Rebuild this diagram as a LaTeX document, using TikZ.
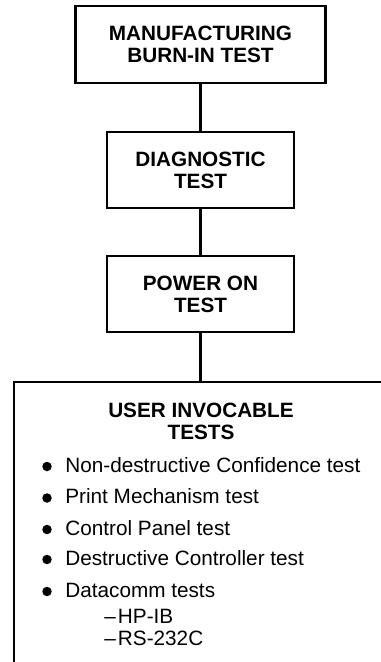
\documentclass[tikz,border=0pt]{standalone}
\usepackage{fontspec}
\setmainfont{Liberation Sans}
\pgfdeclarelayer{edgelayer}
\pgfdeclarelayer{nodelayer}
\pgfsetlayers{edgelayer,nodelayer,main}
\tikzstyle{stage}=[rectangle,fill=white,draw=black,line width=1.3pt,minimum width=3.74cm,minimum height=1.53cm,align=center,font=\fontsize{11.8}{12.6}\selectfont\bfseries]
\tikzstyle{heading}=[align=center,inner sep=0pt,font=\fontsize{11.8}{12.6}\selectfont\bfseries]
\tikzstyle{item}=[anchor=base west,inner sep=0pt,font=\fontsize{11.8}{14}\selectfont]
\tikzstyle{dot}=[circle,fill=black,inner sep=0pt,minimum size=0.19cm]
\tikzstyle{link}=[draw=black,line width=1.3pt]

\begin{document}
\begin{tikzpicture}
	\useasboundingbox (0,0) rectangle (7.62,-13.24);
	\begin{pgfonlayer}{nodelayer}
		\node [style=stage, minimum width=5cm] (burnin) at (4.01,-0.89) {MANUFACTURING\\BURN-IN TEST};
		\node [style=stage] (diag) at (4.01,-3.40) {DIAGNOSTIC\\TEST};
		\node [style=stage] (poweron) at (4.01,-5.88) {POWER ON\\TEST};
		\node [style=stage, anchor=north west, minimum width=7.52cm, minimum height=6cm] (user) at (0.26,-7.62) {};
		\node [style=heading] (usertitle) at (4.02,-8.42) {USER INVOCABLE\\TESTS};
		\foreach \i/\y/\txt in {1/-9.44/Non-destructive Confidence test,
				2/-10.07/Print Mechanism test,
				3/-10.70/Control Panel test,
				4/-11.30/Destructive Controller test,
				5/-11.94/Datacomm tests} {
			\node [style=dot] (dot\i) at (0.94,\y+0.11) {};
			\node [style=item] (item\i) at (1.30,\y) {\txt};
		}
		\node [style=item] (hpib) at (2.08,-12.46) {--\hspace{0.1em}HP-IB};
		\node [style=item] (rs232) at (2.08,-12.90) {--\hspace{0.1em}RS-232C};
	\end{pgfonlayer}
	\begin{pgfonlayer}{edgelayer}
		\draw [style=link] (burnin) to (diag);
		\draw [style=link] (diag) to (poweron);
		\draw [style=link] (poweron) to (poweron |- user.north);
	\end{pgfonlayer}
\end{tikzpicture}
\end{document}
